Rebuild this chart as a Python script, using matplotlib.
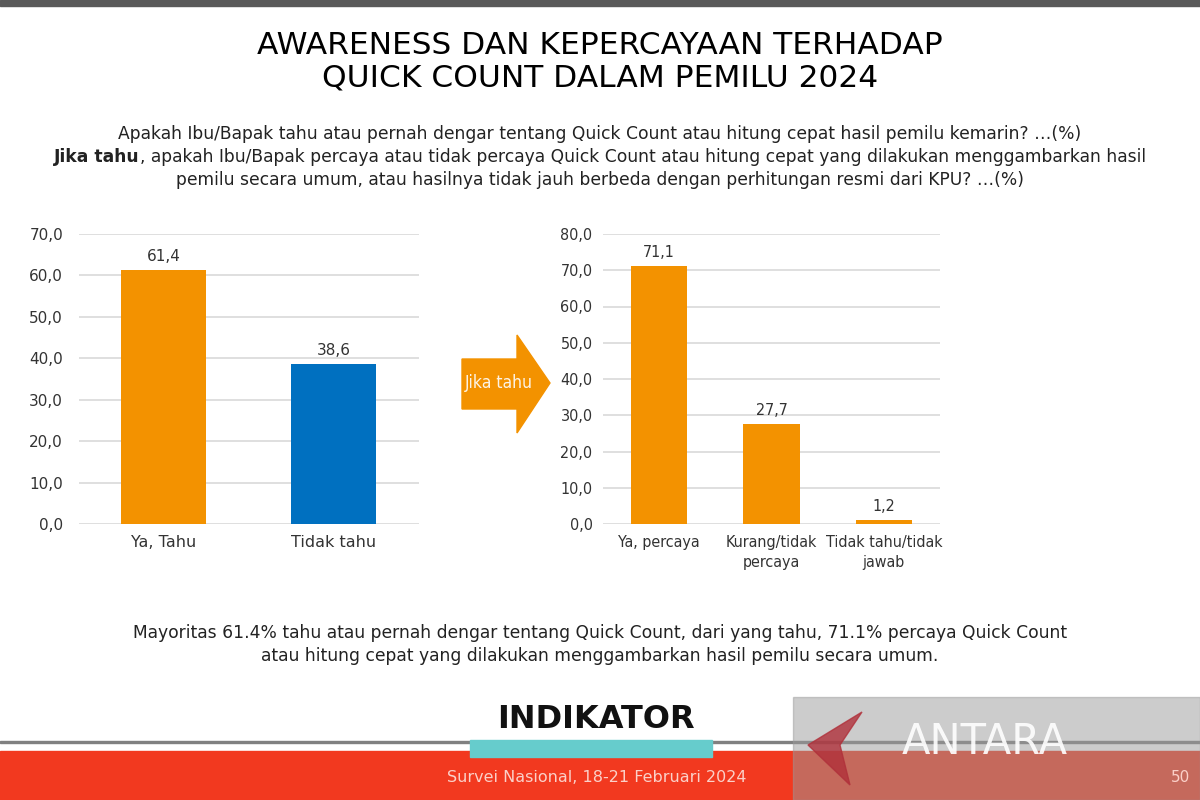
import matplotlib.pyplot as plt
import matplotlib.patches as mpatches
from matplotlib import font_manager as fm
from matplotlib.ticker import FuncFormatter

# Data
aware_labels = ["Ya, Tahu", "Tidak tahu"]
aware_values = [61.4, 38.6]
trust_labels = ["Ya, percaya", "Kurang/tidak\npercaya", "Tidak tahu/tidak\njawab"]
trust_values = [71.1, 27.7, 1.2]

ORANGE = "#F39200"
BLUE = "#0070C0"
GRID = "#D9D9D9"
TXT = "#333333"

plt.rcParams['font.family'] = ['DejaVu Sans']

# the right-hand panel uses squeezed lettering; use a condensed face if one is installed
condensed = [f for f in fm.fontManager.ttflist
             if f.stretch in ('condensed', 'semi-condensed', 'extra-condensed')
             or 'Narrow' in f.name or 'Condensed' in f.name]
if condensed:
    NARROW = dict(family=condensed[0].name, stretch=condensed[0].stretch)
    NSIZE = 11.5
else:
    NARROW = dict(family='DejaVu Sans')
    NSIZE = 9.5

fig = plt.figure(figsize=(12, 8), dpi=100)
W, H = 1200, 800


def fx(px):
    return px / W


def fy(py):
    return 1 - py / H


comma = FuncFormatter(lambda v, p: f"{v:.1f}".replace(".", ","))


def bar_panel(ax, labels, values, colors, ymax, step, font, size, ypad, lsize):
    x = range(len(values))
    ax.bar(x, values, width=0.5, color=colors, zorder=3)
    ax.set_xlim(-0.5, len(values) - 0.5)
    ax.set_ylim(0, ymax)
    ax.set_yticks([i * step for i in range(int(ymax / step) + 1)])
    ax.yaxis.set_major_formatter(comma)
    ax.grid(axis='y', color=GRID, linewidth=1.2, zorder=0)
    for s in ax.spines.values():
        s.set_visible(False)
    ax.tick_params(axis='both', length=0, colors=TXT, pad=8)
    ax.tick_params(axis='y', pad=ypad)
    for lab in ax.get_yticklabels():
        lab.update(font)
        lab.set_fontsize(size)
    ax.set_xticks(list(x))
    ax.set_xticklabels(labels, fontsize=lsize, color=TXT, linespacing=1.4, **font)
    for i, v in enumerate(values):
        ax.text(i, v + ymax * 0.02, f"{v:.1f}".replace(".", ","), ha='center',
                va='bottom', fontsize=size, color=TXT, **font)


# top strip
fig.patches.append(mpatches.Rectangle((0, fy(6)), 1, fy(0) - fy(6), transform=fig.transFigure,
                                      color="#595959", zorder=0))

# Titles
fig.text(0.5, fy(45), "AWARENESS DAN KEPERCAYAAN TERHADAP", ha='center', va='center',
         fontsize=22.5, color="black")
fig.text(0.5, fy(78), "QUICK COUNT DALAM PEMILU 2024", ha='center', va='center',
         fontsize=22.5, color="black")

QSIZE = 12.3
fig.text(0.5, fy(134), "Apakah Ibu/Bapak tahu atau pernah dengar tentang Quick Count atau hitung cepat hasil pemilu kemarin? …(%)",
         ha='center', va='center', fontsize=QSIZE, color="#222222")
# second line: bold lead-in followed by normal text, centered as a whole
renderer = fig.canvas.get_renderer()
b = fig.text(0, fy(157), "Jika tahu", ha='left', va='center', fontsize=QSIZE,
             fontweight='bold', color="#222222")
r = fig.text(0, fy(157),
             ", apakah Ibu/Bapak percaya atau tidak percaya Quick Count atau hitung cepat yang dilakukan menggambarkan hasil",
             ha='left', va='center', fontsize=QSIZE, color="#222222")
wb = b.get_window_extent(renderer).width / W
wr = r.get_window_extent(renderer).width / W
x0 = 0.5 - (wb + wr) / 2
b.set_x(x0)
r.set_x(x0 + wb)
fig.text(0.5, fy(180), "pemilu secara umum, atau hasilnya tidak jauh berbeda dengan perhitungan resmi dari KPU? …(%)",
         ha='center', va='center', fontsize=QSIZE, color="#222222")

# Left chart
ax1 = fig.add_axes([fx(79), fy(524), fx(419) - fx(79), fy(234) - fy(524)])
bar_panel(ax1, aware_labels, aware_values, [ORANGE, BLUE], 70, 10,
          dict(family='DejaVu Sans'), 11, 11.5, 11.5)

# Right chart
ax2 = fig.add_axes([fx(603), fy(524), fx(940) - fx(603), fy(234) - fy(524)])
bar_panel(ax2, trust_labels, trust_values, [ORANGE] * 3, 80, 10, NARROW, NSIZE, 7.5, NSIZE)

# Arrow
arrow_pts = [(462, 359), (517, 359), (517, 335), (550, 383), (517, 433), (517, 409), (462, 409)]
fig.patches.append(mpatches.Polygon([(fx(a), fy(b)) for a, b in arrow_pts], closed=True,
                                    transform=fig.transFigure, color=ORANGE, zorder=2))
fig.text(fx(499), fy(383), "Jika tahu", ha='center', va='center', fontsize=NSIZE + 1,
         color="#FDF3E4", **NARROW)

# Conclusion
fig.text(0.5, fy(633), "Mayoritas 61.4% tahu atau pernah dengar tentang Quick Count, dari yang tahu, 71.1% percaya Quick Count",
         ha='center', va='center', fontsize=12.3, color="#222222")
fig.text(0.5, fy(656), "atau hitung cepat yang dilakukan menggambarkan hasil pemilu secara umum.",
         ha='center', va='center', fontsize=12.3, color="#222222")

# Footer
fig.patches.append(mpatches.Rectangle((0, fy(743)), 1, fy(741) - fy(743), transform=fig.transFigure,
                                      color="#808080", zorder=1))
fig.patches.append(mpatches.Rectangle((0, 0), 1, fy(751), transform=fig.transFigure,
                                      color="#F2391F", zorder=1))
fig.patches.append(mpatches.Rectangle((fx(470), fy(757)), fx(712) - fx(470), fy(740) - fy(757),
                                      transform=fig.transFigure, color="#66CCCC", zorder=2))
fig.text(fx(596), fy(720), "INDIKATOR", ha='center', va='center', fontsize=23,
         fontweight='bold', color="#111111")
fig.text(fx(597), fy(777), "Survei Nasional, 18-21 Februari 2024", ha='center', va='center',
         fontsize=11.5, color="#FBD0C8")
fig.text(fx(1180), fy(777), "50", ha='center', va='center', fontsize=11, color="#FBD0C8")

# Watermark
fig.patches.append(mpatches.Rectangle((fx(793), 0), 1 - fx(793), fy(697), transform=fig.transFigure,
                                      color="#9A9A9A", alpha=0.5, zorder=3))
logo = [(862, 712), (808, 745), (850, 785), (840, 745)]
fig.patches.append(mpatches.Polygon([(fx(a), fy(b)) for a, b in logo], closed=True,
                                    transform=fig.transFigure, color="#B0303A", alpha=0.8, zorder=4))
fig.text(fx(985), fy(742), "ANTARA", ha='center', va='center', fontsize=30,
         color="white", alpha=0.9, zorder=5)

fig.savefig("out.png", dpi=100)
